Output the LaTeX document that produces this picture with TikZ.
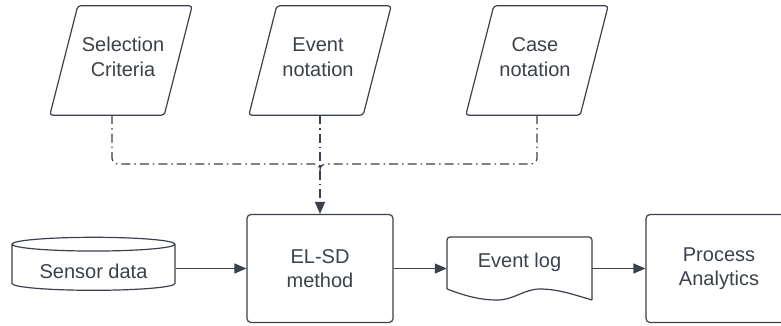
\documentclass[tikz,border=0pt]{standalone}
\usepackage{fontspec}
\setmainfont{Liberation Sans}
\usepackage{tikz}
\usetikzlibrary{arrows.meta,shapes.geometric,positioning,calc}
\usepackage{xcolor}
\definecolor{lcgray}{HTML}{3A414A}
\tikzstyle{shp} = [draw=lcgray, line width=1.2pt]
\tikzstyle{txt} = [text=lcgray, align=center, font=\fontsize{20}{24.5}\selectfont]
\tikzstyle{inbox} = [rectangle, minimum width=142pt, minimum height=109pt, inner sep=0pt]
\tikzstyle{procbox} = [shp, txt, rectangle, rounded corners=4pt, minimum width=146pt, minimum height=108pt]
\tikzstyle{arrow} = [draw=lcgray, line width=1.2pt, -{Triangle[length=12pt,width=10pt]}]
\tikzstyle{dashdot} = [draw=lcgray, line width=1.2pt, dash pattern=on 9pt off 4pt on 1.5pt off 4pt]

\begin{document}
\begin{tikzpicture}[x=1pt, y=-1pt]
    \useasboundingbox (0,0) rectangle (781,325);

    % Inputs
    \node[inbox] (sel) at (121,60.5) {};
    \node[inbox] (evt) at (320,60.5) {};
    \node[inbox] (case) at (537,60.5) {};
    \foreach \n in {sel,evt,case}
        \draw[shp, rounded corners=3pt] ($(\n.north west)+(28,0)$) -- (\n.north east)
            -- ($(\n.south east)+(-28,0)$) -- (\n.south west) -- cycle;
    \node[txt] (selT) at (123,57) {Selection\\Criteria};
    \node[txt] (evtT) at (318,57) {Event\\notation};
    \node[txt] (caseT) at (535,57) {Case\\notation};

    % Main row
    \node[shp, txt, cylinder, shape border rotate=90, aspect=0.12, text height=20pt,
        minimum width=163pt, minimum height=53pt] (sensor) at (93.5,268.5) {Sensor data};
    \node[procbox] (elsd) at (320,268.5) {EL-SD\\method};
    \node[txt, minimum width=145pt, minimum height=50pt] (log) at (519.5,262) {Event log};
    \node[procbox] (proc) at (719,268.5) {Process\\Analytics};

    % Document outline of the event log
    \draw[shp, rounded corners=3pt] (447,289) -- (447,237) -- (592,237) -- (592,300);
    \draw[shp] (447,289) .. controls (468,297) and (482,300) .. (497,300)
        .. controls (514,300) and (524,289) .. (540,289)
        .. controls (558,289) and (575,295) .. (592,300);

    % Dash-dot feeds
    \coordinate (jn) at (320,164);
    \draw[dashdot, rounded corners=6pt] ([xshift=-9pt]sel.south) |- (jn) -- ([yshift=-8pt]jn);
    \draw[dashdot, rounded corners=6pt] (case.south) |- (jn) -- ([yshift=-8pt]jn);
    \draw[dashdot, arrow] (evt.south) -- (elsd.north);

    % Flow
    \draw[arrow] (sensor.east) -- (sensor.east -| elsd.west);
    \draw[arrow] (elsd.east) -- (elsd.east -| log.west);
    \draw[arrow] (log.east |- proc.west) -- (proc.west);
\end{tikzpicture}
\end{document}
